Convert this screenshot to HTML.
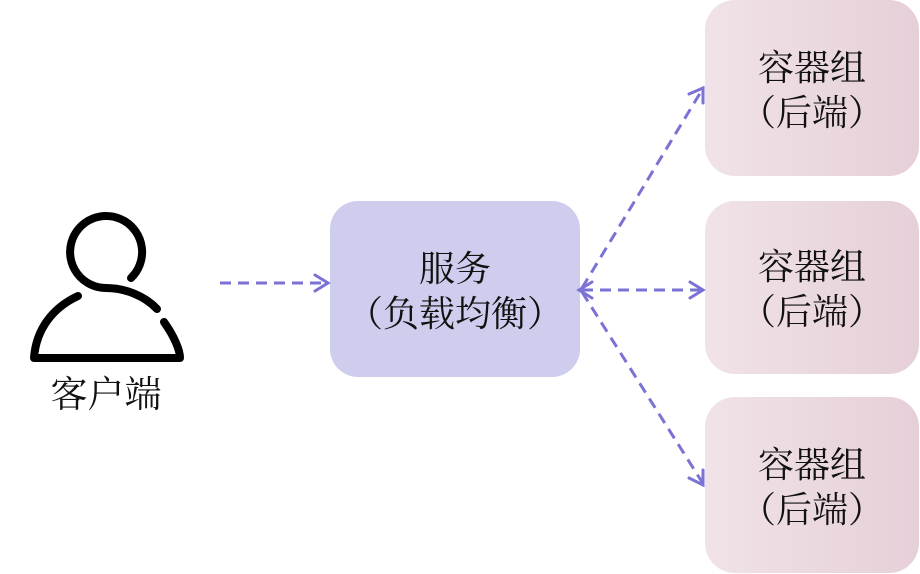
<!DOCTYPE html>
<html><head><meta charset="utf-8"><style>
body{margin:0;width:920px;height:574px;background:#fff;overflow:hidden;position:relative;font-family:"Liberation Serif","Noto Serif CJK SC",serif;}
.b{position:absolute;display:flex;align-items:center;justify-content:center;text-align:center;font-size:36px;line-height:45px;color:#111;box-sizing:border-box;padding-top:5px;}
.r{left:705px;width:214px;border-radius:30px;background:linear-gradient(90deg,#f0e3e8,#e6cfd8);}
</style></head><body>
<div class="b" style="left:330px;top:201px;width:250px;height:176px;border-radius:28px;background:#cfcdee;">服务<br>（负载均衡）</div>
<div class="b r" style="top:0;height:176px;">容器组<br>（后端）</div>
<div class="b r" style="top:201px;height:173px;">容器组<br>（后端）</div>
<div class="b r" style="top:397px;height:176px;">容器组<br>（后端）</div>
<div class="b" style="left:20px;top:372px;width:172px;height:46px;font-size:37px;padding-top:0;">客户端</div>
<svg width="920" height="574" style="position:absolute;left:0;top:0">
<g fill="none" stroke="#000" stroke-width="8" stroke-linecap="round" stroke-linejoin="round">
<path d="M131,278 A36,36 0 1 0 106,288"/>
<path d="M106,288 C125,288 145,296 157,309"/>
<path d="M164,322 C174,336 180,350 180,358 L34,358 C36,330 52,308 78,296"/>
</g>
<g fill="none" stroke="#7b72d6" stroke-width="3" stroke-dasharray="11,7">
<path d="M220,283 L326,283"/>
<path d="M582,290 L701,290"/>
<path d="M582,288 L702,90"/>
<path d="M582,292 L702,482"/>
</g>
<g fill="none" stroke="#7b72d6" stroke-width="3" stroke-linecap="round">
<path d="M315,275 L328,283 L315,291"/>
<path d="M690,282 L703,290 L690,298"/>
<path d="M592,282 L579,290 L592,298"/>
<path d="M689,94 L703,88 L703,103"/>
<path d="M689,478 L703,485 L703,470"/>
</g>
</svg>
</body></html>
